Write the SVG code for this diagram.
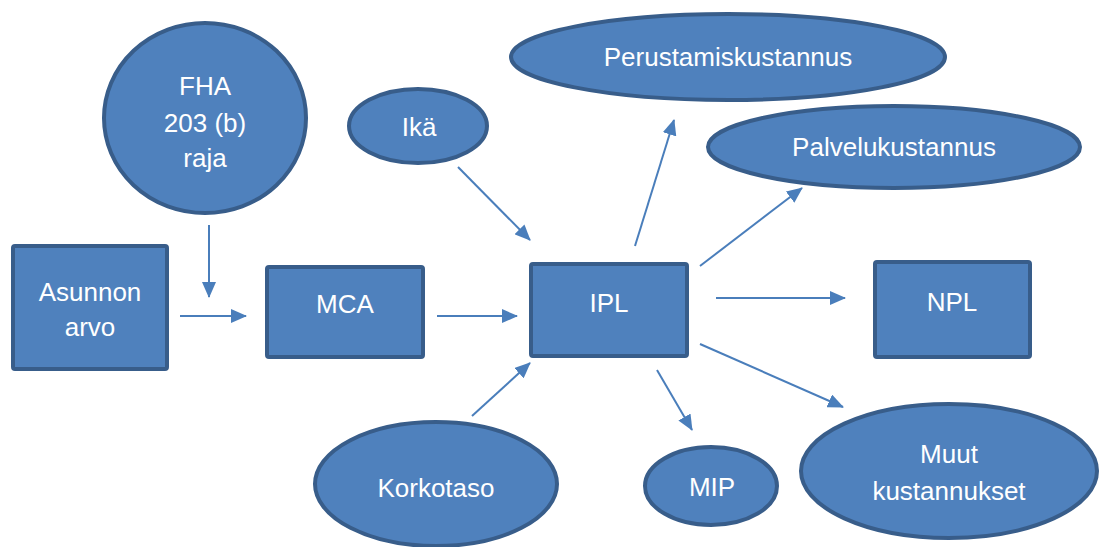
<svg xmlns="http://www.w3.org/2000/svg" width="1103" height="547" viewBox="0 0 1103 547">
<defs>
<marker id="ah" viewBox="0 0 16 14" refX="15" refY="7" markerWidth="16" markerHeight="14" markerUnits="userSpaceOnUse" orient="auto">
<path d="M0,0 L16,7 L0,14 z" fill="#4a7ebb"/>
</marker>
<style>
.n{fill:#4f81bd;stroke:#385d8a;stroke-width:4}
.t{font-family:"Liberation Sans",Arial,sans-serif;font-size:26px;fill:#ffffff;text-anchor:middle}
.c{stroke:#4a7ebb;stroke-width:2;fill:none;marker-end:url(#ah)}
</style>
</defs>
<rect width="1103" height="547" fill="#ffffff"/>
<g id="connectors">
<path class="c" d="M209,225 L209,297"/>
<path class="c" d="M180,316 L246,316"/>
<path class="c" d="M437,316 L517,316"/>
<path class="c" d="M458,167 L530,240"/>
<path class="c" d="M472,416 L530,363"/>
<path class="c" d="M635,246 L674,120"/>
<path class="c" d="M700,266 L802,188"/>
<path class="c" d="M716,298 L845,298"/>
<path class="c" d="M657,370 L692,430"/>
<path class="c" d="M700,344 L843,407"/>
</g>
<g id="asunnon"><rect class="n" x="13" y="246" width="154" height="123" rx="2"/><text class="t" x="90" y="301">Asunnon</text><text class="t" x="90" y="336">arvo</text></g>
<g id="fha"><ellipse class="n" cx="205" cy="118" rx="101" ry="95"/><text class="t" x="205" y="95">FHA</text><text class="t" x="205" y="132">203 (b)</text><text class="t" x="205" y="167">raja</text></g>
<g id="mca"><rect class="n" x="267" y="267" width="156" height="90" rx="2"/><text class="t" x="345" y="313">MCA</text></g>
<g id="ipl"><rect class="n" x="531" y="264" width="156" height="92" rx="2"/><text class="t" x="609" y="312">IPL</text></g>
<g id="npl"><rect class="n" x="875" y="262" width="155" height="95" rx="2"/><text class="t" x="952" y="311">NPL</text></g>
<g id="ika"><ellipse class="n" cx="418" cy="126" rx="69" ry="37"/><text class="t" x="419" y="136">Ikä</text></g>
<g id="perustamis"><ellipse class="n" cx="728" cy="57" rx="217" ry="43"/><text class="t" x="728" y="66">Perustamiskustannus</text></g>
<g id="palvelu"><ellipse class="n" cx="894" cy="147" rx="186" ry="41"/><text class="t" x="894" y="156">Palvelukustannus</text></g>
<g id="korkotaso"><ellipse class="n" cx="436" cy="484" rx="121" ry="62"/><text class="t" x="436" y="497">Korkotaso</text></g>
<g id="mip"><ellipse class="n" cx="711" cy="486" rx="66" ry="39"/><text class="t" x="712" y="496">MIP</text></g>
<g id="muut"><ellipse class="n" cx="949" cy="471" rx="148" ry="67"/><text class="t" x="949" y="463">Muut</text><text class="t" x="949" y="500">kustannukset</text></g>
</svg>
